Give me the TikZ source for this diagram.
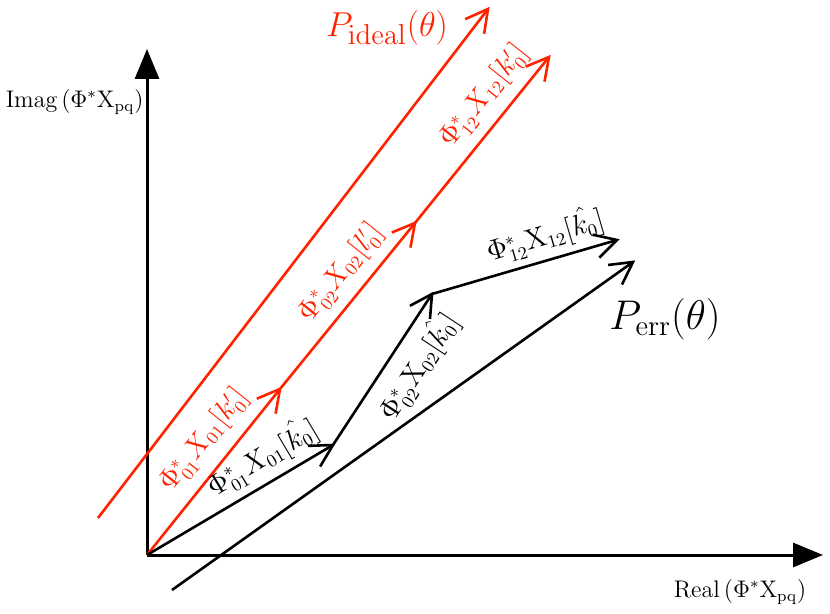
\documentclass[tikz,border=0pt]{standalone}
\usetikzlibrary{arrows.meta}
\definecolor{vred}{RGB}{255,34,0}
\pgfdeclarearrow{
  name = OpenV,
  parameters = {\the\pgfarrowlength,\the\pgfarrowwidth},
  setup code = {
    \pgfarrowssettipend{0pt}
    \pgfarrowssetlineend{-1pt}
    \pgfarrowssetbackend{-\pgfarrowlength}
    \pgfarrowsupperhullpoint{-\pgfarrowlength}{.5\pgfarrowwidth}
    \pgfarrowsupperhullpoint{0pt}{0pt}
    \pgfarrowssavethe\pgfarrowlength
    \pgfarrowssavethe\pgfarrowwidth
  },
  drawing code = {
    \pgfsetmiterjoin
    \pgfsetbuttcap
    \pgfpathmoveto{\pgfqpoint{-\pgfarrowlength}{.5\pgfarrowwidth}}
    \pgfpathlineto{\pgfqpoint{0pt}{0pt}}
    \pgfpathlineto{\pgfqpoint{-\pgfarrowlength}{-.5\pgfarrowwidth}}
    \pgfusepathqstroke
  },
  defaults = {length = 10pt, width = 14pt}
}
\begin{document}
\begin{tikzpicture}[x=0.5pt,y=-0.5pt,
  axis/.style={line width=1.5pt,-{Triangle[length=15pt,width=12pt]}},
  bvec/.style={line width=1.3pt,-{OpenV[length=11pt,width=12pt]}},
  rvec/.style={bvec,vred},
  lab/.style={font=\fontsize{13.5pt}{16pt}\selectfont,inner sep=0pt},
  rlab/.style={lab,text=vred},
  plab/.style={inner sep=0pt}]
\useasboundingbox (0,0) rectangle (830,614);
% points
\coordinate (O) at (147,555);
\coordinate (YT) at (147,49);
\coordinate (XT) at (823,555);
\coordinate (L0) at (98,518);
\coordinate (L1) at (488,9);
\coordinate (R1) at (280,389);
\coordinate (R2) at (415,223);
\coordinate (R3) at (549,57);
\coordinate (B1) at (333,445);
\coordinate (B2) at (432,294);
\coordinate (B3) at (617,240);
\coordinate (E0) at (172,590);
\coordinate (E1) at (633,262);
% axes
\draw[axis] (O) -- (YT);
\draw[axis] (O) -- (XT);
\node[anchor=east,inner sep=0pt,font=\large] (ylab) at (144,102) {Imag$\,(\Phi^{*}\mathrm{X_{pq}})$};
\node[inner sep=0pt,font=\large] (xlab) at (740,592) {Real$\,(\Phi^{*}\mathrm{X_{pq}})$};
% red vectors
\draw[rvec] (L0) -- (L1);
\draw[rvec] (O) -- (R1);
\draw[rvec] (R1) -- (R2);
\draw[rvec] (R2) -- (R3);
\node[plab,text=vred,font=\fontsize{19pt}{23pt}\selectfont] (pideal) at (387,28) {$P_{\mathrm{ideal}}(\theta)$};
\node[rlab,rotate=51.5] (r1lab) at (204,440) {$\Phi_{01}^{*}X_{01}[k_0']$};
\node[rlab,rotate=51.5] (r2lab) at (341,273) {$\Phi_{02}^{*}X_{02}[l_0']$};
\node[rlab,rotate=51.5] (r3lab) at (484,96) {$\Phi_{12}^{*}X_{12}[k_0']$};
% black vectors
\draw[bvec] (O) -- (B1);
\draw[bvec] (B1) -- (B2);
\draw[bvec] (B2) -- (B3);
\draw[bvec] (E0) -- (E1);
\node[lab,rotate=30.7] (b1lab) at (262,457) {$\Phi_{01}^{*}X_{01}[\hat{k_0}]$};
\node[lab,rotate=56.7] (b2lab) at (418,366) {$\Phi_{02}^{*}\mathrm{X}_{02}[\hat{k_0}]$};
\node[lab,rotate=16.3] (b3lab) at (545,235) {$\Phi_{12}^{*}\mathrm{X}_{12}[\hat{k_0}]$};
\node[plab,font=\fontsize{21.5pt}{26pt}\selectfont] (perr) at (665,319) {$P_{\mathrm{err}}(\theta)$};
\end{tikzpicture}
\end{document}
